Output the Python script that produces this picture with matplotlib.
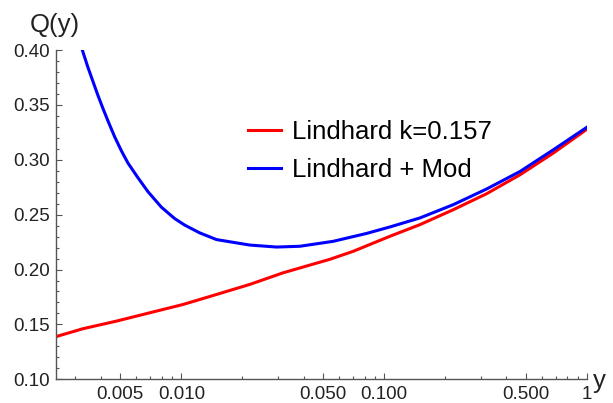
import numpy as np
import matplotlib
matplotlib.use("Agg")
import matplotlib.pyplot as plt

plt.rcParams['font.family'] = ['Liberation Sans', 'DejaVu Sans']

# values (x on a log scale)
x_red = [0.00240, 0.00327, 0.00478, 0.00698, 0.0102, 0.0149, 0.0217, 0.0317,
         0.0539, 0.0703, 0.1067, 0.150, 0.219, 0.320, 0.468, 0.682, 1.0]
q_red = [0.1388, 0.1461, 0.1530, 0.1606, 0.1682, 0.1773, 0.1864, 0.1970,
         0.2093, 0.2166, 0.2303, 0.2409, 0.2545, 0.2691, 0.2864, 0.3061, 0.3279]

x_blue = [0.003246, 0.003448, 0.003662, 0.003877, 0.004102, 0.004342, 0.004687,
          0.005057, 0.005451, 0.006107, 0.006842, 0.007968, 0.009267, 0.01038,
          0.01231, 0.01489, 0.02174, 0.02944, 0.03837, 0.05601, 0.08188,
          0.1067, 0.150, 0.219, 0.320, 0.468, 0.682, 1.0]
q_blue = [0.4000, 0.3850, 0.3714, 0.3586, 0.3468, 0.3355, 0.3209,
          0.3082, 0.2970, 0.2836, 0.2709, 0.2568, 0.2464, 0.2405,
          0.2334, 0.2273, 0.2223, 0.2205, 0.2212, 0.2257, 0.2329,
          0.2388, 0.2470, 0.2591, 0.2734, 0.2894, 0.3091, 0.3297]

labels = ['Lindhard k=0.157', 'Lindhard + Mod']
xticks = [0.005, 0.01, 0.05, 0.1, 0.5, 1]
xtick_labels = ['0.005', '0.010', '0.050', '0.100', '0.500', '1']
yticks = [0.10, 0.15, 0.20, 0.25, 0.30, 0.35, 0.40]

fig = plt.figure(figsize=(6.13, 4.03), dpi=100)
ax = fig.add_axes([0.0909, 0.0588, 0.9576 - 0.0909, 0.8759 - 0.0588])

ax.plot(x_red, q_red, color=(1, 0, 0), lw=2.2, label=labels[0])
ax.plot(x_blue, q_blue, color=(0, 0, 1), lw=2.2, label=labels[1])

ax.set_xscale('log')
ax.set_xlim(0.0024, 1.0)
ax.set_ylim(0.10, 0.40)

ax.set_xticks(xticks)
ax.set_xticklabels(xtick_labels)
minor_x = [v * d for d in [0.001, 0.01, 0.1] for v in range(2, 10)]
ax.set_xticks([m for m in minor_x if 0.0024 <= m <= 1 and round(m, 6) not in xticks], minor=True)
ax.set_yticks(yticks)
ax.set_yticklabels(['%.2f' % v for v in yticks])
ax.set_yticks(np.arange(0.10, 0.401, 0.01), minor=True)

for s in ['top', 'right']:
    ax.spines[s].set_visible(False)
for s in ['bottom', 'left']:
    ax.spines[s].set_color('#555555')
    ax.spines[s].set_linewidth(1.0)

ax.tick_params(which='both', direction='in', color='#555555', width=0.8,
               labelsize=13.5, labelcolor='#222222')
ax.tick_params(which='major', length=4.2)
ax.tick_params(which='minor', length=2.5)
ax.tick_params(axis='x', which='major', pad=4.5)
ax.tick_params(axis='y', which='major', pad=4)

fig.text(55 / 613, 1 - 25 / 403, 'Q(y)', fontsize=18.5, ha='center', va='center',
         color='#222222')
fig.text(593 / 613, 1 - 381 / 403, 'y', fontsize=18.5, ha='left', va='center',
         color='#222222')

ax.legend(loc='center left', bbox_to_anchor=(248 / 613, 1 - 151 / 403),
          bbox_transform=fig.transFigure, frameon=False, fontsize=18.5,
          handlelength=1.28, handletextpad=0.43, labelspacing=0.56,
          borderpad=0, borderaxespad=0)

fig.savefig('out.png', dpi=100)
